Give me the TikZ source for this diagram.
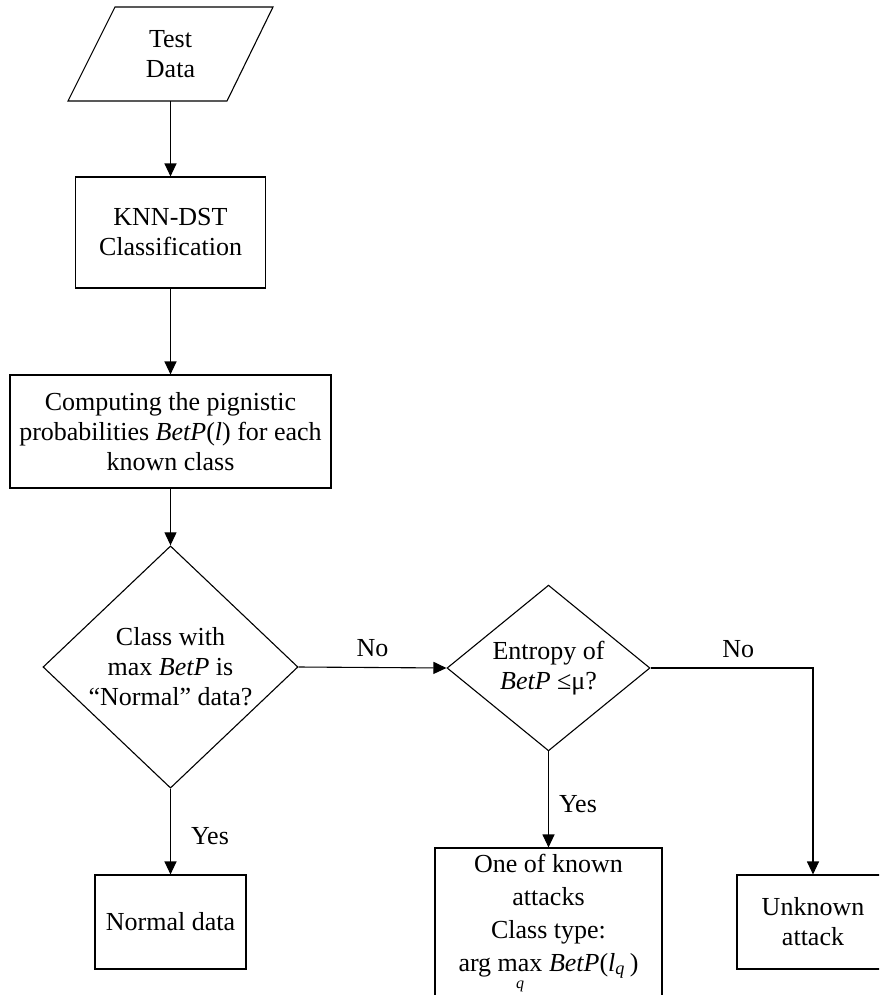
\documentclass[tikz,border=0pt]{standalone}
\usepackage{fontspec}
\setmainfont{Liberation Serif}
\usetikzlibrary{shapes.geometric,arrows.meta}
\begin{document}
\begin{tikzpicture}[x=0.5pt,y=-0.5pt,
  every node/.style={font=\fontsize{13}{15}\selectfont, align=center},
  box/.style={draw, line width=0.55pt, inner sep=0pt},
  decision/.style={draw, diamond, line width=0.55pt, inner sep=0pt},
  flow/.style={line width=0.55pt, -{Triangle[length=6.5pt,width=6pt]}},
  lbl/.style={inner sep=0pt}
]
\clip (0,0) rectangle (879,995);

% input parallelogram
\node (data) [minimum height=47pt, minimum width=60pt, inner sep=0pt] at (170.5,54) {Test\\Data};
\draw[line width=0.55pt] (115,7) -- (273,7) -- (227,101) -- (68,101) -- cycle;

% process boxes
\node (knn) [box, minimum width=95pt, minimum height=55.5pt] at (170.5,232.5) {KNN-DST\\Classification};
\node (comp) [box, minimum width=160.5pt, minimum height=56.5pt] at (170.5,431.5)
  {Computing the pignistic\\probabilities \textit{BetP}(\textit{l}) for each\\known class};

% decisions
\node (d1) [decision, minimum width=127.5pt, minimum height=112pt] at (170.5,667)
  {Class with\\max \textit{BetP} is\\“Normal” data?};
\node (d2) [decision, minimum width=101.5pt, minimum height=75pt] at (548.5,668)
  {Entropy of\\\textit{BetP} ≤μ?};

% outcomes
\node (normal) [box, minimum width=75.5pt, minimum height=47pt] at (170.5,922) {Normal data};
\node (known) [box, minimum width=113.5pt, minimum height=76pt,
  font=\fontsize{13}{16.5}\selectfont] at (548.5,924)
  {One of known\\attacks\\Class type:\\arg $\mathop{\mbox{max}}\limits_{\mbox{\rule{0pt}{7pt}\fontsize{8}{8}\selectfont\itshape q}}$ \textit{BetP}(\textit{l}\textsubscript{\itshape q}\,)};
\node (unk) [box, minimum width=76pt, minimum height=47pt] at (813,922) {Unknown\\attack};

% connectors
\draw[flow] (data.south) -- (knn.north);
\draw[flow] (knn.south) -- (comp.north);
\draw[flow] (comp.south) -- (d1.north);
\draw[flow] (d1.east) -- node[lbl, above=5pt] {No} (d2.west);
\draw[flow] (d2.east) -| node[lbl, pos=0.27, above=5pt] {No} (unk.north);
\draw[flow] (d1.south) -- node[lbl, pos=0.55, right=10pt] {Yes} (normal.north);
\draw[flow] (d2.south) -- node[lbl, pos=0.55, right=5pt] {Yes} (known.north);
\end{tikzpicture}
\end{document}
